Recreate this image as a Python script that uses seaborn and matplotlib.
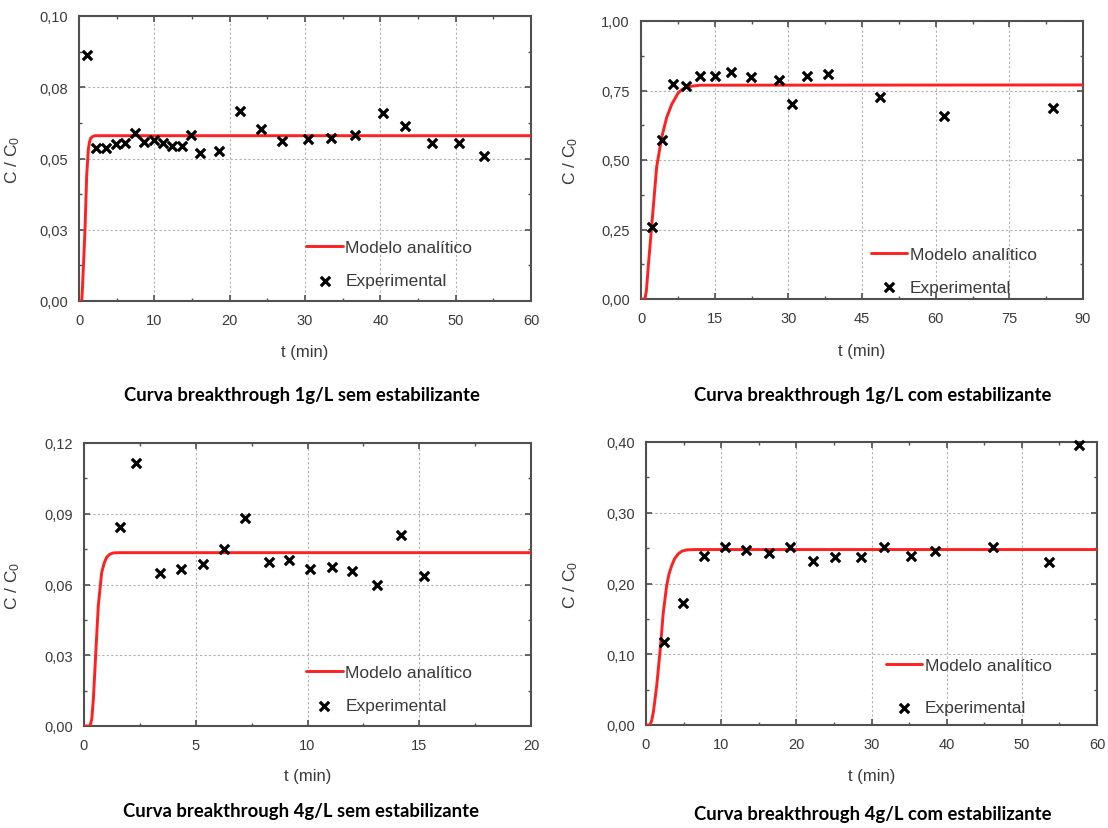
import numpy as np
import pandas as pd
import matplotlib
matplotlib.use("Agg")
import matplotlib.pyplot as plt
import seaborn as sns
from matplotlib.ticker import FixedLocator, FixedFormatter, MultipleLocator

# ---------------- data ----------------
# Panel 1: 1 g/L sem estabilizante
p1_exp_t = [1.1, 2.27, 3.59, 4.86, 6.14, 7.41, 8.69, 9.92, 11.1, 12.4, 13.7, 14.9, 16.1,
            18.6, 21.4, 24.2, 26.9, 30.4, 33.4, 36.7, 40.3, 43.3, 46.8, 50.4, 53.8]
p1_exp_c = [0.0862, 0.0537, 0.0537, 0.0550, 0.0556, 0.0590, 0.0558, 0.0564, 0.0553, 0.0544,
            0.0544, 0.0582, 0.0518, 0.0527, 0.0667, 0.0605, 0.0562, 0.0568, 0.0572, 0.0582,
            0.0660, 0.0614, 0.0553, 0.0553, 0.0509]
p1_mod_t = [0, 0.36, 0.45, 0.57, 0.80, 1.02, 1.24, 1.40, 1.55, 1.80, 2.12, 60]
p1_mod_c = [0, 0.0, 0.004, 0.0112, 0.0253, 0.044, 0.0533, 0.0558, 0.0571, 0.0577, 0.0580, 0.0580]

# Panel 2: 1 g/L com estabilizante
p2_exp_t = [2.2, 4.2, 6.5, 9.2, 12.0, 15.1, 18.4, 22.3, 28.2, 30.8, 33.9, 38.1, 48.6, 61.7, 83.8]
p2_exp_c = [0.259, 0.572, 0.775, 0.765, 0.803, 0.803, 0.818, 0.799, 0.789, 0.702,
            0.803, 0.810, 0.726, 0.660, 0.688]
p2_mod_t = [0, 0.81, 1.1, 1.49, 2.17, 3.19, 4.21, 5.23, 6.25, 7.6, 8.4, 9.3, 10.5, 12.0, 90]
p2_mod_c = [0, 0.0, 0.03, 0.119, 0.261, 0.475, 0.581, 0.653, 0.700, 0.742, 0.754, 0.762,
            0.766, 0.769, 0.770]

# Panel 3: 4 g/L sem estabilizante
p3_exp_t = [1.61, 2.32, 3.39, 4.36, 5.33, 6.26, 7.21, 8.28, 9.17, 10.1, 11.1, 12.0, 13.1, 14.2, 15.2]
p3_exp_c = [0.0842, 0.1116, 0.0649, 0.0666, 0.0689, 0.0751, 0.0880, 0.0696, 0.0706,
            0.0666, 0.0673, 0.0656, 0.0596, 0.0809, 0.0638]
p3_mod_t = [0, 0.27, 0.35, 0.42, 0.52, 0.64, 0.79, 0.90, 1.01, 1.15, 1.31, 1.6, 20]
p3_mod_c = [0, 0.0, 0.003, 0.0115, 0.0298, 0.051, 0.065, 0.069, 0.0715, 0.0728, 0.0734,
            0.0735, 0.0735]

# Panel 4: 4 g/L com estabilizante
p4_exp_t = [2.42, 4.97, 7.76, 10.5, 13.3, 16.3, 19.1, 22.2, 25.2, 28.6, 31.7, 35.2, 38.4, 46.1, 53.6, 57.6]
p4_exp_c = [0.118, 0.173, 0.239, 0.252, 0.247, 0.243, 0.252, 0.232, 0.238, 0.238,
            0.252, 0.239, 0.246, 0.252, 0.231, 0.396]
p4_mod_t = [0, 0.53, 0.75, 0.98, 1.42, 1.86, 2.30, 2.75, 3.05, 3.41, 3.8, 4.30, 4.8, 5.41, 6.5, 60]
p4_mod_c = [0, 0.0, 0.006, 0.018, 0.055, 0.103, 0.159, 0.197, 0.213, 0.225, 0.235, 0.242,
            0.2458, 0.2475, 0.248, 0.248]

# ticks
p1_yticks = [0.0, 0.025, 0.05, 0.075, 0.10]
p1_ylabels = ["0,00", "0,03", "0,05", "0,08", "0,10"]
p1_xticks = [0, 10, 20, 30, 40, 50, 60]
p2_yticks = [0.0, 0.25, 0.50, 0.75, 1.00]
p2_ylabels = ["0,00", "0,25", "0,50", "0,75", "1,00"]
p2_xticks = [0, 15, 30, 45, 60, 75, 90]
p3_yticks = [0.0, 0.03, 0.06, 0.09, 0.12]
p3_ylabels = ["0,00", "0,03", "0,06", "0,09", "0,12"]
p3_xticks = [0, 5, 10, 15, 20]
p4_yticks = [0.0, 0.10, 0.20, 0.30, 0.40]
p4_ylabels = ["0,00", "0,10", "0,20", "0,30", "0,40"]
p4_xticks = [0, 10, 20, 30, 40, 50, 60]

titles = ["Curva breakthrough 1g/L sem estabilizante",
          "Curva breakthrough 1g/L com estabilizante",
          "Curva breakthrough 4g/L sem estabilizante",
          "Curva breakthrough 4g/L com estabilizante"]
legend_labels = ["Modelo analítico", "Experimental"]
xlabel = "t (min)"
ylabel = "C / C$_0$"

# ---------------- style ----------------
sns.set_theme(style="ticks")
plt.rcParams["font.family"] = ["Liberation Sans", "DejaVu Sans"]
plt.rcParams["mathtext.fontset"] = "custom"
plt.rcParams["mathtext.rm"] = "Liberation Sans"
plt.rcParams["mathtext.it"] = "Liberation Sans"

TXT = "#3a3a3a"
RED = "#ff2020"
SPINE = "#505050"

fig = plt.figure(figsize=(11.08, 8.29), dpi=100)
fig.patch.set_facecolor("white")

W, H = 1108, 829
def rect(l, r, t, b):
    return [l / W, (H - b) / H, (r - l) / W, (b - t) / H]

panels = [
    dict(rect=rect(79, 531, 17, 302), mt=p1_mod_t, mc=p1_mod_c, et=p1_exp_t, ec=p1_exp_c,
         xt=p1_xticks, yt=p1_yticks, yl=p1_ylabels, xlim=(0, 60), ylim=(0, 0.10),
         leg=(0.503, 0.045), ls=1.05, ylx=-0.126, xly=-0.150, title=(302, 396)),
    dict(rect=rect(641, 1083, 22, 300), mt=p2_mod_t, mc=p2_mod_c, et=p2_exp_t, ec=p2_exp_c,
         xt=p2_xticks, yt=p2_yticks, yl=p2_ylabels, xlim=(0, 90), ylim=(0, 1.0),
         leg=(0.52, 0.015), ls=1.0, ylx=-0.138, xly=-0.160, title=(873, 396)),
    dict(rect=rect(84, 531, 444, 727), mt=p3_mod_t, mc=p3_mod_c, et=p3_exp_t, ec=p3_exp_c,
         xt=p3_xticks, yt=p3_yticks, yl=p3_ylabels, xlim=(0, 20), ylim=(0, 0.12),
         leg=(0.497, 0.045), ls=1.05, ylx=-0.139, xly=-0.150, title=(301, 812)),
    dict(rect=rect(646, 1097, 443, 726), mt=p4_mod_t, mc=p4_mod_c, et=p4_exp_t, ec=p4_exp_c,
         xt=p4_xticks, yt=p4_yticks, yl=p4_ylabels, xlim=(0, 60), ylim=(0, 0.40),
         leg=(0.532, 0.035), ls=1.55, ylx=-0.146, xly=-0.153, title=(873, 815)),
]

for i, p in enumerate(panels):
    ax = fig.add_axes(p["rect"])
    mod = pd.DataFrame({"t": p["mt"], "c": p["mc"]})
    exp = pd.DataFrame({"t": p["et"], "c": p["ec"]})
    sns.lineplot(data=mod, x="t", y="c", ax=ax, color=RED, lw=2.1,
                 estimator=None, sort=False, label=legend_labels[0], zorder=3)
    sns.scatterplot(data=exp, x="t", y="c", ax=ax, marker="x", color="black",
                    s=45, linewidth=2.3, label=legend_labels[1], zorder=4, clip_on=False)
    ax.set_xlim(*p["xlim"])
    ax.set_ylim(*p["ylim"])
    ax.xaxis.set_major_locator(FixedLocator(p["xt"]))
    ax.xaxis.set_major_formatter(FixedFormatter([str(v) for v in p["xt"]]))
    ax.yaxis.set_major_locator(FixedLocator(p["yt"]))
    ax.yaxis.set_major_formatter(FixedFormatter(p["yl"]))
    ax.xaxis.set_minor_locator(MultipleLocator((p["xt"][1] - p["xt"][0]) / 2))
    ax.yaxis.set_minor_locator(MultipleLocator((p["yt"][1] - p["yt"][0]) / 2))
    ax.grid(True, which="major", linestyle=(0, (2, 2)), color="#b0b0b0", lw=0.8)
    ax.set_axisbelow(True)
    for s in ax.spines.values():
        s.set_visible(True)
        s.set_color(SPINE)
        s.set_linewidth(1.5)
    ax.tick_params(which="both", direction="in", top=True, right=True, colors=SPINE,
                   labelcolor=TXT, labelsize=10.5)
    ax.tick_params(which="major", length=4, width=1.2)
    ax.tick_params(which="minor", length=2.5, width=1.0)
    ax.tick_params(axis="y", pad=8)
    ax.tick_params(axis="x", pad=9)
    ax.set_xlabel(xlabel, fontsize=12, color=TXT)
    ax.set_ylabel(ylabel, fontsize=12.5, color=TXT)
    ax.yaxis.set_label_coords(p["ylx"], 0.5)
    ax.xaxis.set_label_coords(0.5, p["xly"])
    ax.set_facecolor("white")
    leg = ax.legend(loc="lower left", bbox_to_anchor=p["leg"], frameon=False,
                    fontsize=12.5, handlelength=2.1, handletextpad=0.15,
                    labelspacing=p["ls"], borderpad=0, borderaxespad=0)
    for t in leg.get_texts():
        t.set_color(TXT)
    tx, ty = p["title"]
    fig.text(tx / W, 1 - ty / H, titles[i], ha="center", va="center",
             fontsize=13.3, fontweight="bold", color="black", family=["Lato", "DejaVu Sans"])

fig.savefig("out.png", dpi=100, facecolor="white")
